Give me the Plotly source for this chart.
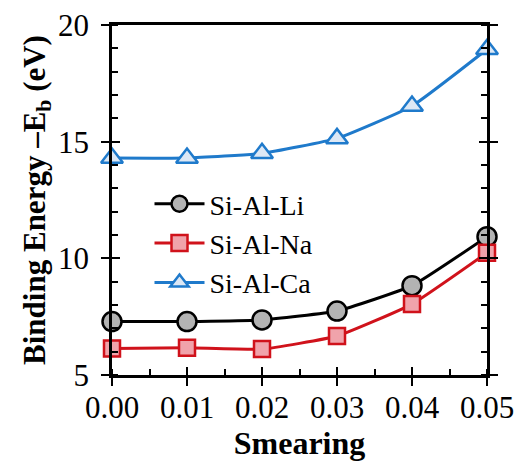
import plotly.graph_objects as go

# Binding energy vs. smearing for three Si-Al systems
smearing = [0.00, 0.01, 0.02, 0.03, 0.04, 0.05]
eb_li = [7.29, 7.29, 7.36, 7.74, 8.83, 10.93]
eb_na = [6.14, 6.17, 6.11, 6.67, 8.04, 10.24]
eb_ca = [14.30, 14.30, 14.50, 15.14, 16.53, 18.96]

x_ticks = [0.00, 0.01, 0.02, 0.03, 0.04, 0.05]
x_tick_text = ["0.00", "0.01", "0.02", "0.03", "0.04", "0.05"]
y_ticks = [5, 10, 15, 20]

FONT = "Liberation Serif"

series = [
    ("Si-Al-Li", eb_li, "circle", "#000000", "#b3b3b3", 19),
    ("Si-Al-Na", eb_na, "square", "#d0121b", "#f0a3ab", 16),
    ("Si-Al-Ca", eb_ca, "triangle-up", "#1f7acb", "#dde8f5", 19),
]

fig = go.Figure()
for name, vals, sym, edge, fill, size in series:
    fig.add_trace(go.Scatter(
        x=smearing, y=vals, name=name, mode="lines+markers",
        line=dict(color=edge, width=3, shape="spline", smoothing=0.4),
        marker=dict(symbol=sym, size=size, color=fill,
                    line=dict(color=edge, width=2.5)),
        cliponaxis=False,
    ))

# empty trace so the overlay axes (inward half of the crossing ticks) get drawn
fig.add_trace(go.Scatter(x=[], y=[], xaxis="x2", yaxis="y2",
                         showlegend=False, hoverinfo="skip"))

tickfont = dict(family=FONT, size=31, color="black")

fig.update_layout(
    width=517, height=462,
    margin=dict(l=112, r=30, t=25, b=87, autoexpand=False),
    plot_bgcolor="white", paper_bgcolor="white",
    font=dict(family=FONT, color="black"),
    xaxis=dict(
        range=[0, 0.05], tickvals=x_ticks, ticktext=x_tick_text,
        ticks="outside", ticklen=8, tickwidth=2, tickcolor="black",
        minor=dict(dtick=0.005, ticks="inside", ticklen=6, tickwidth=2,
                   tickcolor="black"),
        showline=True, linewidth=2.5, linecolor="black", mirror=True,
        showgrid=False, zeroline=False, tickfont=tickfont,
        ticklabelstandoff=-5, automargin=False,
        title=dict(text="<b>Smearing</b>", font=dict(family=FONT, size=32),
                   standoff=0),
    ),
    yaxis=dict(
        range=[5, 20], tickvals=y_ticks,
        ticks="outside", ticklen=8, tickwidth=2, tickcolor="black",
        minor=dict(dtick=1, ticks="inside", ticklen=6, tickwidth=2,
                   tickcolor="black"),
        showline=True, linewidth=2.5, linecolor="black", mirror="ticks",
        showgrid=False, zeroline=False, tickfont=tickfont,
        ticklabelstandoff=6, automargin=False,
        title=dict(text="<b>Binding Energy –E<sub>b</sub> (eV)</b>",
                   font=dict(family=FONT, size=31), standoff=4),
    ),
    xaxis2=dict(
        overlaying="x", range=[0, 0.05], tickvals=x_ticks,
        ticks="inside", ticklen=8, tickwidth=2, tickcolor="black",
        showticklabels=False, showline=False, showgrid=False,
        zeroline=False, side="bottom", automargin=False,
    ),
    yaxis2=dict(
        overlaying="y", range=[5, 20], tickvals=y_ticks,
        ticks="inside", ticklen=8, tickwidth=2, tickcolor="black",
        showticklabels=False, showline=False, showgrid=False,
        zeroline=False, mirror="ticks", side="left", automargin=False,
    ),
    legend=dict(
        x=0.1, y=0.56, xanchor="left", yanchor="top",
        bgcolor="rgba(0,0,0,0)", font=dict(family=FONT, size=28),
        tracegroupgap=0, itemwidth=50,
    ),
    showlegend=True,
)

fig.write_html("out.html")
